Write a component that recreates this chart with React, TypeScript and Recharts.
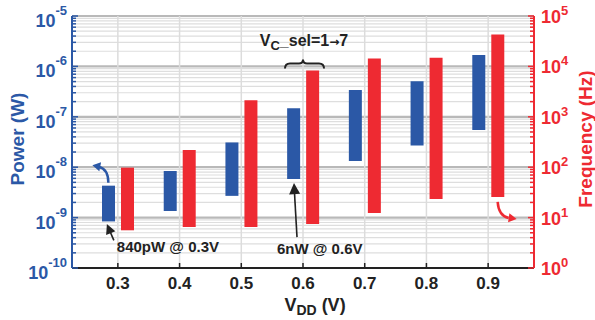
import React from 'react';
import { BarChart, Bar, XAxis, YAxis, CartesianGrid, ReferenceDot } from 'recharts';

// supply voltage categories
const vddLabels = ['0.3', '0.4', '0.5', '0.6', '0.7', '0.8', '0.9'];

// power range (W) for V_C_sel = 1..7
const powerMin = [8.4e-10, 1.35e-9, 2.7e-9, 5.8e-9, 1.33e-8, 2.7e-8, 5.5e-8];
const powerMax = [4.3e-9, 8.4e-9, 3.1e-8, 1.48e-7, 3.4e-7, 5.1e-7, 1.68e-6];

// frequency range (Hz)
const freqMin = [5.6, 6.5, 6.5, 7.5, 12.3, 23.4, 25.7];
const freqMax = [98, 219, 2120, 8300, 14400, 14900, 43000];

// decade ticks
const powerDecades = [1e-10, 1e-9, 1e-8, 1e-7, 1e-6, 1e-5];
const freqDecades = [1, 10, 100, 1000, 10000, 100000];

const BLUE = '#2b58a6';
const RED = '#ee2a32';
const INK = '#222222';
const FONT = '"Liberation Sans", Arial, Helvetica, sans-serif';

const withMinors = (decades: number[]) => {
  const out: number[] = [];
  decades.forEach((d, i) => {
    if (i === decades.length - 1) {
      out.push(d);
      return;
    }
    for (let k = 1; k <= 9; k++) out.push(d * k);
  });
  return out;
};

const powerTicks = withMinors(powerDecades);
const freqTicks = withMinors(freqDecades);

const isDecade = (v: number) => {
  const l = Math.log10(v);
  return Math.abs(l - Math.round(l)) < 1e-6;
};

const data = vddLabels.map((vdd, i) => ({
  vdd,
  power: [powerMin[i], powerMax[i]],
  freq: [freqMin[i], freqMax[i]],
}));

const PowerTick = (props: any) => {
  const { x, y, payload } = props;
  const v = payload.value;
  const major = isDecade(v);
  return (
    <g>
      <line x1={x} y1={y} x2={x + (major ? 6 : 4)} y2={y} stroke={BLUE} strokeWidth={1.5} />
      {major && (
        <text x={x - 5} y={y + 11} textAnchor="end" fill={BLUE} fontSize={18} fontWeight="bold" fontFamily={FONT}>
          10<tspan fontSize={13} dy={-12}>{Math.round(Math.log10(v))}</tspan>
        </text>
      )}
    </g>
  );
};

const FreqTick = (props: any) => {
  const { x, y, payload } = props;
  const v = payload.value;
  const major = isDecade(v);
  return (
    <g>
      <line x1={x} y1={y} x2={x - (major ? 6 : 4)} y2={y} stroke={RED} strokeWidth={1.5} />
      {major && (
        <text x={x + 7} y={y + 7} textAnchor="start" fill={RED} fontSize={18} fontWeight="bold" fontFamily={FONT}>
          10<tspan fontSize={13} dy={-8}>{Math.round(Math.log10(v))}</tspan>
        </text>
      )}
    </g>
  );
};

const BottomTick = (props: any) => {
  const { x, y, payload } = props;
  return (
    <g>
      <line x1={x} y1={y} x2={x} y2={y - 5} stroke={INK} strokeWidth={1.5} />
      <text x={x} y={y + 21} textAnchor="middle" fill={INK} fontSize={17} fontWeight="bold" fontFamily={FONT}>
        {payload.value}
      </text>
    </g>
  );
};

const TopTick = (props: any) => {
  const { x, y } = props;
  return <line x1={x} y1={y} x2={x} y2={y + 5} stroke={INK} strokeWidth={1.5} />;
};

const GridLine = (props: any) => {
  const { x1, x2, y1, index } = props;
  const major = isDecade(powerTicks[index] ?? 2);
  return (
    <line
      key={`h-${index}`}
      x1={x1}
      x2={x2}
      y1={y1}
      y2={y1}
      stroke={major ? '#b9b9b9' : '#dedede'}
      strokeWidth={major ? 2.2 : 1.2}
    />
  );
};

const headPoints = (tx: number, ty: number, dx: number, dy: number, len: number, half: number) => {
  const n = Math.hypot(dx, dy);
  const ux = dx / n;
  const uy = dy / n;
  const bx = tx - ux * len;
  const by = ty - uy * len;
  return `${tx},${ty} ${bx - uy * half},${by + ux * half} ${bx + uy * half},${by - ux * half}`;
};

const BlueCurl = ({ cx, cy }: any) => {
  if (cx == null || cy == null) return <g />;
  const x = cx - 9.5;
  return (
    <g>
      <path d={`M ${x} ${cy - 3} Q ${x} ${cy - 17} ${x - 10} ${cy - 19}`} fill="none" stroke={BLUE} strokeWidth={2.5} />
      <polygon points={headPoints(x - 16, cy - 20.5, -10, -2, 8, 4.5)} fill={BLUE} />
    </g>
  );
};

const RedCurl = ({ cx, cy }: any) => {
  if (cx == null || cy == null) return <g />;
  const x = cx + 9.5;
  return (
    <g>
      <path d={`M ${x} ${cy + 5} Q ${x + 1} ${cy + 19} ${x + 11} ${cy + 21}`} fill="none" stroke={RED} strokeWidth={2.5} />
      <polygon points={headPoints(x + 19, cy + 22, 10, 1.5, 8, 4.5)} fill={RED} />
    </g>
  );
};

const Note840 = ({ cx, cy }: any) => {
  if (cx == null || cy == null) return <g />;
  const tipX = cx - 11;
  const tipY = cy + 2.5;
  return (
    <g>
      <line x1={cx - 4} y1={cy + 19} x2={tipX + 2.5} y2={tipY + 6} stroke={INK} strokeWidth={1.6} />
      <polygon points={headPoints(tipX, tipY, -7, -16.5, 10, 5)} fill={INK} />
      <text x={cx - 1} y={cy + 31} fill={INK} fontSize={15} fontWeight="bold" fontFamily={FONT}>
        840pW @ 0.3V
      </text>
    </g>
  );
};

const Note6n = ({ cx, cy }: any) => {
  if (cx == null || cy == null) return <g />;
  const tipX = cx - 9;
  const tipY = cy + 4;
  return (
    <g>
      <line x1={cx - 6} y1={cy + 58} x2={tipX + 0.4} y2={tipY + 8} stroke={INK} strokeWidth={1.6} />
      <polygon points={headPoints(tipX, tipY, -3, -54, 11, 5.5)} fill={INK} />
      <text x={cx - 26} y={cy + 75} fill={INK} fontSize={15} fontWeight="bold" fontFamily={FONT}>
        6nW @ 0.6V
      </text>
    </g>
  );
};

const SelBrace = ({ cx, cy }: any) => {
  if (cx == null || cy == null) return <g />;
  const l = cx - 18;
  const r = cx + 21;
  const m = cx;
  const yb = cy - 2;
  const yt = cy - 7;
  return (
    <g>
      <path
        d={`M ${l} ${yb} Q ${l} ${yt} ${l + 5} ${yt} L ${m - 4} ${yt} Q ${m} ${yt} ${m} ${cy - 11} Q ${m} ${yt} ${m + 4} ${yt} L ${r - 5} ${yt} Q ${r} ${yt} ${r} ${yb}`}
        fill="none"
        stroke={INK}
        strokeWidth={2}
      />
      <text x={cx + 1} y={cy - 24} textAnchor="middle" fill={INK} fontSize={16} fontWeight="bold" fontFamily={FONT}>
        V<tspan fontSize={13} dy={4}>C</tspan>
        <tspan dy={-4}>_sel=1</tspan>
        <tspan fontSize={12} fontFamily="DejaVu Sans">→</tspan>7
      </text>
    </g>
  );
};

const PowerTitle = (props: any) => {
  const vb = props.viewBox || {};
  const x = (vb.x ?? 12) + 5;
  const y = (vb.y ?? 16) + (vb.height ?? 252) / 2 - 3;
  return (
    <text x={x} y={y} transform={`rotate(-90 ${x} ${y})`} textAnchor="middle" dominantBaseline="central" fill={BLUE} fontSize={19} fontWeight="bold" fontFamily={FONT}>
      Power (W)
    </text>
  );
};

const FreqTitle = (props: any) => {
  const vb = props.viewBox || {};
  const x = (vb.x ?? 534) + 51;
  const y = (vb.y ?? 16) + (vb.height ?? 252) / 2 - 3;
  return (
    <text x={x} y={y} transform={`rotate(-90 ${x} ${y})`} textAnchor="middle" dominantBaseline="central" fill={RED} fontSize={19} fontWeight="bold" fontFamily={FONT}>
      Frequency (Hz)
    </text>
  );
};

const VddTitle = (props: any) => {
  const vb = props.viewBox || {};
  const x = (vb.x ?? 72) + (vb.width ?? 462) / 2 + 12;
  const y = (vb.y ?? 268) + 43;
  return (
    <text x={x} y={y} textAnchor="middle" fill={INK} fontSize={18} fontWeight="bold" fontFamily={FONT}>
      V<tspan fontSize={14} dy={4}>DD</tspan>
      <tspan dy={-4}> (V)</tspan>
    </text>
  );
};

export default function App() {
  return (
    <div style={{ position: 'absolute', left: 0, top: 0, width: 595, height: 320, background: '#fff' }}>
      <BarChart
        width={595}
        height={320}
        data={data}
        margin={{ top: 16, right: 11, bottom: 0, left: 12 }}
        barSize={13}
        barGap={6}
      >
        <CartesianGrid
          yAxisId="p"
          horizontal={GridLine as any}
          stroke="#dcdcdc"
          strokeWidth={1.5}
        />
        <XAxis
          dataKey="vdd"
          interval={0}
          height={52}
          padding={{ left: 15, right: 15 }}
          tickSize={0}
          tickMargin={0}
          tickLine={false}
          axisLine={{ stroke: INK, strokeWidth: 2 }}
          tick={<BottomTick />}
          label={<VddTitle />}
        />
        <XAxis
          xAxisId="top"
          dataKey="vdd"
          orientation="top"
          interval={0}
          height={0}
          padding={{ left: 15, right: 15 }}
          tickSize={0}
          tickMargin={0}
          tickLine={false}
          axisLine={{ stroke: INK, strokeWidth: 2 }}
          tick={<TopTick />}
        />
        <YAxis
          yAxisId="p"
          scale="log"
          domain={[1e-10, 1e-5]}
          allowDataOverflow
          ticks={powerTicks}
          interval={0}
          width={60}
          tickSize={0}
          tickMargin={0}
          tickLine={false}
          axisLine={{ stroke: BLUE, strokeWidth: 2 }}
          tick={<PowerTick />}
          label={<PowerTitle />}
        />
        <YAxis
          yAxisId="f"
          orientation="right"
          scale="log"
          domain={[1, 1e5]}
          allowDataOverflow
          ticks={freqTicks}
          interval={0}
          width={50}
          tickSize={0}
          tickMargin={0}
          tickLine={false}
          axisLine={{ stroke: RED, strokeWidth: 2 }}
          tick={<FreqTick />}
          label={<FreqTitle />}
        />
        <Bar dataKey="power" yAxisId="p" fill={BLUE} isAnimationActive={false} />
        <Bar dataKey="freq" yAxisId="f" fill={RED} isAnimationActive={false} />
        <ReferenceDot x="0.3" y={powerMax[0]} yAxisId="p" shape={BlueCurl} />
        <ReferenceDot x="0.9" y={freqMin[6]} yAxisId="f" shape={RedCurl} />
        <ReferenceDot x="0.3" y={powerMin[0]} yAxisId="p" shape={Note840} />
        <ReferenceDot x="0.6" y={powerMin[3]} yAxisId="p" shape={Note6n} />
        <ReferenceDot x="0.6" y={freqMax[3]} yAxisId="f" shape={SelBrace} />
      </BarChart>
    </div>
  );
}
